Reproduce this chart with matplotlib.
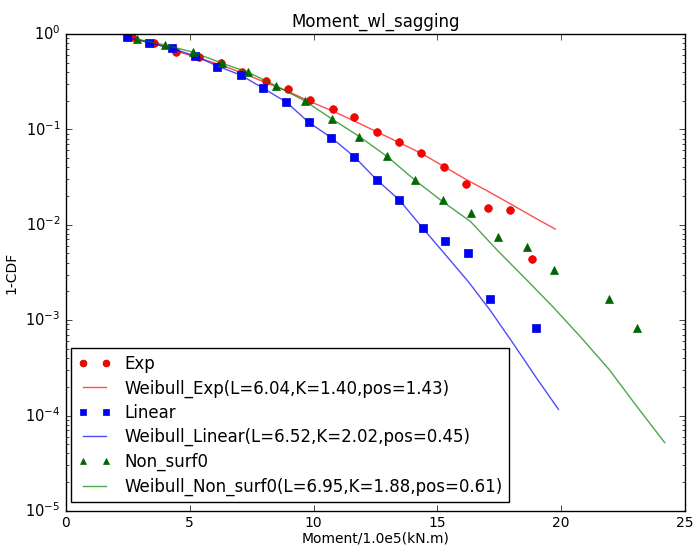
import matplotlib
matplotlib.use('Agg')
from matplotlib import pyplot as plt

plt.style.use('classic')

exp_x = [2.65, 3.56, 4.46, 5.37, 6.28, 7.12, 8.06, 8.96, 9.87, 10.78,
         11.65, 12.56, 13.44, 14.35, 15.25, 16.14, 17.06, 17.94, 18.84]
exp_y = [0.923, 0.80, 0.653, 0.578, 0.493, 0.397, 0.32, 0.264, 0.201, 0.163,
         0.133, 0.094, 0.074, 0.057, 0.040, 0.027, 0.015, 0.0141, 0.0044]

lin_x = [2.45, 3.36, 4.30, 5.20, 6.12, 7.06, 7.96, 8.90, 9.81, 10.71,
         11.65, 12.55, 13.47, 14.41, 15.29, 16.25, 17.14, 18.99]
lin_y = [0.923, 0.811, 0.708, 0.593, 0.455, 0.372, 0.270, 0.193, 0.118, 0.082,
         0.0515, 0.0296, 0.0181, 0.0092, 0.0067, 0.0051, 0.00168, 0.00083]

ns_x = [2.875, 3.99, 5.13, 6.30, 7.35, 8.50, 9.64, 10.75, 11.85, 12.97,
        14.11, 15.21, 16.34, 17.45, 18.60, 19.71, 21.94, 23.05]
ns_y = [0.88, 0.767, 0.643, 0.493, 0.397, 0.285, 0.199, 0.128, 0.084, 0.0519,
        0.0291, 0.0183, 0.0133, 0.0075, 0.0059, 0.00336, 0.00167, 0.00083]

# fitted weibull curves
wexp_x = [2.5, 3.56, 4.46, 5.37, 6.28, 7.12, 8.06, 8.96, 9.87, 10.78,
          11.65, 12.56, 13.44, 14.35, 15.25, 16.14, 17.06, 17.94, 18.84, 19.76]
wexp_y = [0.92, 0.80, 0.66, 0.56, 0.47, 0.39, 0.31, 0.25, 0.195, 0.155,
          0.122, 0.094, 0.073, 0.056, 0.041, 0.030, 0.0223, 0.0166, 0.0122, 0.0090]

wlin_x = [2.45, 3.36, 4.30, 5.20, 6.12, 7.06, 7.96, 8.90, 9.81, 10.71,
          11.65, 12.55, 13.47, 14.41, 15.29, 16.25, 17.14, 18.06, 18.99, 19.89]
wlin_y = [0.923, 0.81, 0.70, 0.59, 0.46, 0.37, 0.27, 0.193, 0.118, 0.082,
          0.0515, 0.0296, 0.0181, 0.0092, 0.00497, 0.00253, 0.00126, 5.7e-4, 2.5e-4, 1.16e-4]

wns_x = [2.875, 3.99, 5.13, 6.30, 7.35, 8.50, 9.64, 10.75, 11.85, 12.97,
         14.11, 15.21, 16.34, 17.45, 18.60, 19.71, 20.82, 21.94, 23.05, 24.18]
wns_y = [0.88, 0.767, 0.643, 0.493, 0.397, 0.285, 0.199, 0.128, 0.084, 0.0519,
         0.0291, 0.0175, 0.0108, 0.0053, 0.00265, 0.00134, 6.5e-4, 3.03e-4, 1.25e-4, 5.2e-5]

labels = ['Exp', 'Weibull_Exp(L=6.04,K=1.40,pos=1.43)',
          'Linear', 'Weibull_Linear(L=6.52,K=2.02,pos=0.45)',
          'Non_surf0', 'Weibull_Non_surf0(L=6.95,K=1.88,pos=0.61)']

fig = plt.figure(figsize=(6.94, 5.47), dpi=100, facecolor='white')
ax = fig.add_axes([0.095, 0.066, 0.892, 0.872])

ax.plot(exp_x, exp_y, 'o', color='r', mec='#cc0000', ms=5.5, label=labels[0])
ax.plot(wexp_x, wexp_y, '-', color='r', alpha=0.7, lw=1, label=labels[1])
ax.plot(lin_x, lin_y, 's', color='b', mec='#0000cc', ms=5.5, label=labels[2])
ax.plot(wlin_x, wlin_y, '-', color='b', alpha=0.7, lw=1, label=labels[3])
ax.plot(ns_x, ns_y, '^', color='#006400', mec='#006400', ms=5.5, label=labels[4])
ax.plot(wns_x, wns_y, '-', color='g', alpha=0.7, lw=1, label=labels[5])

ax.set_yscale('log')
ax.set_xlim(0, 25)
ax.set_ylim(1e-5, 1)
ax.tick_params(axis='y', labelsize=10.5)
ax.tick_params(axis='x', labelsize=10)
ax.set_xlabel('Moment/1.0e5(kN.m)', fontsize=10, labelpad=1)
ax.set_ylabel('1-CDF', fontsize=10)
ax.set_title('Moment_wl_sagging', fontsize=12)

ax.legend(loc='lower left', bbox_to_anchor=(0.008, 0.018), borderaxespad=0,
          fontsize=12, numpoints=2, labelspacing=0.38, handlelength=2.0,
          markerscale=0.9)

fig.savefig('out.png', dpi=100, facecolor='white')
